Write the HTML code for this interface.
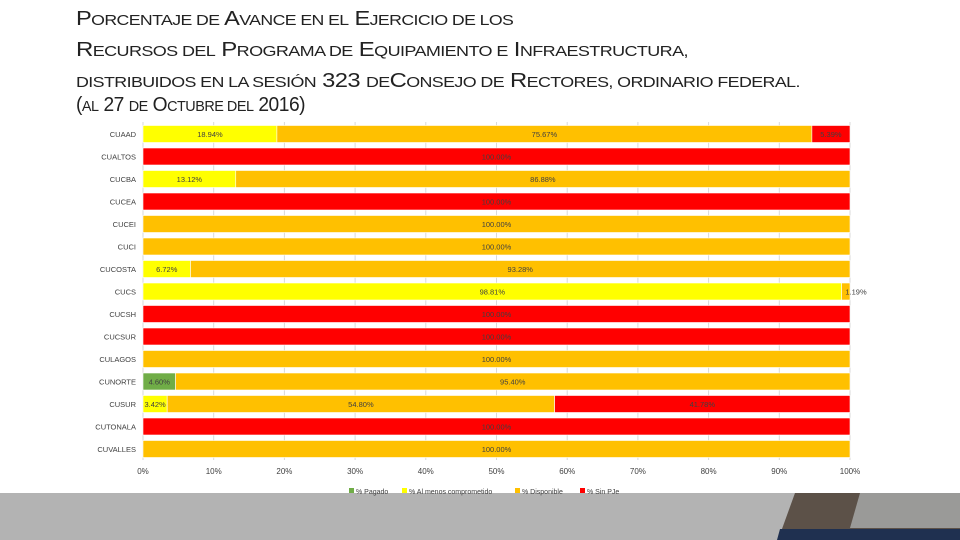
<!DOCTYPE html>
<html><head><meta charset="utf-8"><style>
body{margin:0;width:960px;height:540px;overflow:hidden;background:#fff;font-family:"Liberation Sans",sans-serif;position:relative}
.t{position:absolute;left:76px;color:#222;font-size:20px;letter-spacing:-0.5px;white-space:nowrap;transform-origin:0 0}
.t small{font-size:15px}
</style></head><body>
<div class="t" style="top:8px;transform:scaleX(1.18)">P<small>ORCENTAJE DE</small> A<small>VANCE EN EL</small> E<small>JERCICIO DE LOS</small></div>
<div class="t" style="top:39px;transform:scaleX(1.2)">R<small>ECURSOS DEL</small> P<small>ROGRAMA DE</small> E<small>QUIPAMIENTO E</small> I<small>NFRAESTRUCTURA,</small></div>
<div class="t" style="top:70px;transform:scaleX(1.19)"><small>DISTRIBUIDOS EN LA SESIÓN</small> 323 <small>DE</small>C<small>ONSEJO DE</small> R<small>ECTORES, ORDINARIO FEDERAL.</small></div>
<div class="t" style="top:94px;transform:scaleX(0.96)">(<small>AL</small> 27 <small>DE</small> O<small>CTUBRE DEL</small> 2016)</div>
<svg id="c" width="960" height="540" style="position:absolute;left:0;top:0"></svg>
<script>
const categories=["CUAAD","CUALTOS","CUCBA","CUCEA","CUCEI","CUCI","CUCOSTA","CUCS","CUCSH","CUCSUR","CULAGOS","CUNORTE","CUSUR","CUTONALA","CUVALLES"];
const pagado=[0,0,0,0,0,0,0,0,0,0,0,4.60,0,0,0];
const comprometido=[18.94,0,13.12,0,0,0,6.72,98.81,0,0,0,0,3.42,0,0];
const disponible=[75.67,0,86.88,0,100,100,93.28,1.19,0,0,100,95.40,54.80,0,100];
const sinpe=[5.39,100,0,100,0,0,0,0,100,100,0,0,41.78,100,0];
const ticks=[0,10,20,30,40,50,60,70,80,90,100];
const seriesNames=["% Pagado","% Al menos comprometido","% Disponible","% Sin PJe"];
const colors=["#70ad47","#ffff00","#ffc000","#ff0000"];
const NS="http://www.w3.org/2000/svg",svg=document.getElementById('c');
const x0=143,x1=850,yTop=134,step=22.5,bh=17;
const X=v=>x0+(x1-x0)*v/100, Y=i=>yTop+i*step;
function el(t,a,p){const e=document.createElementNS(NS,t);for(const k in a)e.setAttribute(k,a[k]);(p||svg).appendChild(e);return e;}
let g=el('rect',{x:0,y:493,width:960,height:47,fill:'#b3b3b3'});


let p1=el('polygon',{points:'795,493 960,493 960,540 778,540',fill:'#5c5148'});


el('polygon',{points:'860,493 960,493 960,528 850,528',fill:'#9a9a98'});
let p2=el('polygon',{points:'780,529 960,529 960,540 777,540',fill:'#1f3050'});


ticks.forEach(t=>{
 let l=el('line',{x1:X(t),x2:X(t),y1:122,y2:460,stroke:'#d9d9d9','stroke-width':1});
 
 
 let tx=el('text',{x:X(t),y:474,'font-size':8,'text-anchor':'middle',fill:'#404040'});tx.textContent=t+'%';
 
 
});
const series=[pagado,comprometido,disponible,sinpe];
categories.forEach((c,i)=>{
 let lb=el('text',{x:136,y:Y(i)+3,'font-size':7.5,'text-anchor':'end',fill:'#404040'});lb.textContent=c;
 
 
 let acc=0;
 series.forEach((s,k)=>{
  const v=s[i];if(!v)return;
  let r=el('rect',{x:X(acc),y:Y(i)-bh/2,width:X(acc+v)-X(acc),height:bh,fill:colors[k],stroke:'#fff','stroke-width':0.6});
  
  
  let cx=X(acc+v/2);
  if(k==2&&v<3)cx=X(100)+6;
  let t=el('text',{x:cx,y:Y(i)+3,'font-size':7.5,'text-anchor':'middle',fill:'#404040'});t.textContent=v.toFixed(2)+'%';
  
  
  acc+=v;
 });
});
const lx=[349,402,515,580];
seriesNames.forEach((n,k)=>{
 let r=el('rect',{x:lx[k],y:488,width:5,height:5,fill:colors[k]});
 
 
 let t=el('text',{x:lx[k]+7,y:494,'font-size':7,fill:'#404040'});t.textContent=n;
 
 
});
</script>
</body></html>
